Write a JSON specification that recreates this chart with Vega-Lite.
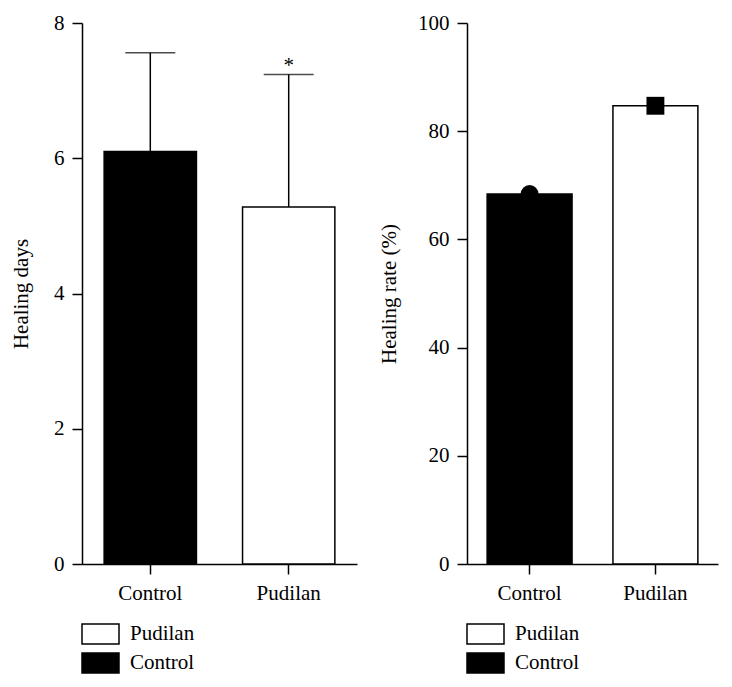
{
  "$schema": "https://vega.github.io/schema/vega-lite/v6.json",
  "background": "white",
  "padding": {"left": 10, "top": 12, "right": 5, "bottom": 5},
  "bounds": "flush",
  "spacing": 110,
  "config": {
    "view": {"stroke": null},
    "font": "Liberation Serif",
    "axis": {
      "grid": false,
      "domainColor": "black",
      "domainWidth": 1.5,
      "tickColor": "black",
      "tickWidth": 1.5,
      "tickSize": 10,
      "labelFont": "Liberation Serif",
      "labelFontSize": 21,
      "labelColor": "black",
      "titleFont": "Liberation Serif",
      "titleFontSize": 21,
      "titleFontWeight": "normal",
      "titleColor": "black"
    },
    "legend": {
      "labelFont": "Liberation Serif",
      "labelFontSize": 21,
      "labelColor": "black",
      "symbolType": "M-1,-0.54H1V0.54H-1Z",
      "symbolSize": 1369,
      "symbolStrokeColor": "black",
      "symbolStrokeWidth": 1.5,
      "clipHeight": 22,
      "rowPadding": 7,
      "labelOffset": 10,
      "padding": 0,
      "symbolOffset": 0
    }
  },
  "datasets": {
    "days": [
      {"group": "Control", "days": 6.1, "upper": 7.56, "sig": ""},
      {"group": "Pudilan", "days": 5.28, "upper": 7.24, "sig": "*"}
    ],
    "rate": [
      {"group": "Control", "rate": 68.4},
      {"group": "Pudilan", "rate": 84.7}
    ]
  },
  "resolve": {"scale": {"fill": "independent", "shape": "independent"}, "legend": {"fill": "independent"}},
  "hconcat": [
    {
      "width": 275,
      "height": 541,
      "data": {"name": "days"},
      "encoding": {
        "x": {
          "field": "group", "type": "nominal", "sort": ["Control", "Pudilan"],
          "scale": {"paddingInner": 0.333, "paddingOuter": 0.16},
          "axis": {"title": null, "labelAngle": 0, "labelPadding": 8}
        }
      },
      "layer": [
        {
          "mark": {"type": "bar", "stroke": "black", "strokeWidth": 1.5},
          "encoding": {
            "y": {
              "field": "days", "type": "quantitative",
              "scale": {"domain": [0, 8], "nice": false},
              "axis": {"title": "Healing days", "values": [0, 2, 4, 6, 8], "format": "d", "labelPadding": 8, "titlePadding": 22}
            },
            "fill": {
              "field": "group", "type": "nominal",
              "scale": {"domain": ["Pudilan", "Control"], "range": ["white", "black"]},
              "legend": {"title": null, "orient": "none", "legendX": -1, "legendY": 600}
            }
          }
        },
        {
          "mark": {"type": "rule", "color": "black", "strokeWidth": 1.5},
          "encoding": {
            "y": {"field": "days", "type": "quantitative"},
            "y2": {"field": "upper"}
          }
        },
        {
          "mark": {"type": "tick", "color": "black", "thickness": 1.5, "size": 50, "orient": "horizontal"},
          "encoding": {"y": {"field": "upper", "type": "quantitative"}}
        },
        {
          "mark": {"type": "text", "fontSize": 21, "color": "black", "dy": -8, "baseline": "middle"},
          "encoding": {
            "y": {"field": "upper", "type": "quantitative"},
            "text": {"field": "sig"}
          }
        }
      ]
    },
    {
      "width": 251,
      "height": 541,
      "data": {"name": "rate"},
      "encoding": {
        "x": {
          "field": "group", "type": "nominal", "sort": ["Control", "Pudilan"],
          "scale": {"paddingInner": 0.325, "paddingOuter": 0.16},
          "axis": {"title": null, "labelAngle": 0, "labelPadding": 8}
        }
      },
      "layer": [
        {
          "mark": {"type": "bar", "stroke": "black", "strokeWidth": 1.5},
          "encoding": {
            "y": {
              "field": "rate", "type": "quantitative",
              "scale": {"domain": [0, 100], "nice": false},
              "axis": {"title": "Healing rate (%)", "values": [0, 20, 40, 60, 80, 100], "format": "d", "labelPadding": 8, "titlePadding": 18}
            },
            "fill": {
              "field": "group", "type": "nominal",
              "scale": {"domain": ["Pudilan", "Control"], "range": ["white", "black"]},
              "legend": {"title": null, "orient": "none", "legendX": -1, "legendY": 600}
            }
          }
        },
        {
          "mark": {"type": "point", "filled": true, "color": "black", "size": 320, "opacity": 1},
          "encoding": {
            "y": {"field": "rate", "type": "quantitative"},
            "shape": {
              "field": "group", "type": "nominal",
              "scale": {"domain": ["Control", "Pudilan"], "range": ["circle", "square"]},
              "legend": null
            }
          }
        }
      ]
    }
  ]
}
